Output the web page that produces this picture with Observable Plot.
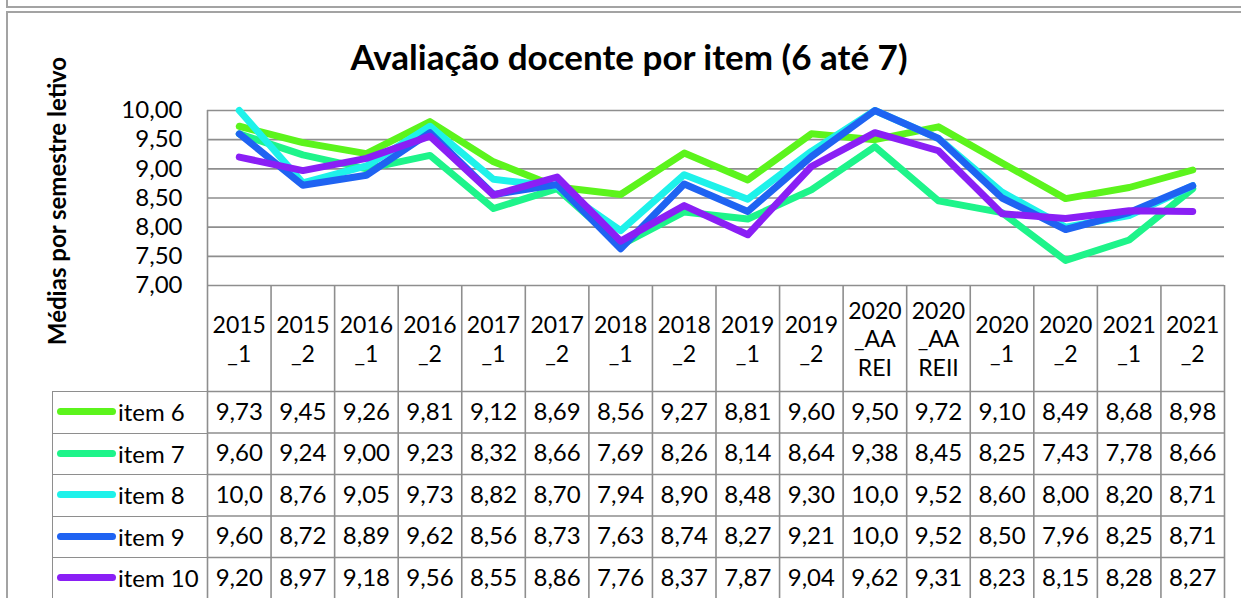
<!DOCTYPE html>
<html>
<head>
<meta charset="utf-8">
<script src="https://cdn.jsdelivr.net/npm/d3@7"></script>
<script src="https://cdn.jsdelivr.net/npm/@observablehq/plot@0.6"></script>
<style>
  html, body { margin: 0; padding: 0; background: #fff; }
  #root { position: relative; width: 1241px; height: 598px; overflow: hidden; font-family: Lato, "Open Sans", sans-serif; }
  #root svg { position: absolute; left: 0; overflow: visible; }
  .frame1 { position: absolute; left: 6px; top: -10px; width: 1300px; height: 16px; border-left: 2px solid #a3a3a3; border-bottom: 2px solid #a3a3a3; }
  .frame2 { position: absolute; left: 6px; top: 11px; width: 1300px; height: 700px; border-left: 2px solid #a3a3a3; border-top: 2px solid #a3a3a3; }
  .title { position: absolute; left: 0; width: 1258px; top: 39px; text-align: center; font-weight: bold; font-size: 35px; line-height: 34px; color: #000; }
  .legend { position: absolute; left: 52px; top: 391px; width: 155px; height: 210px; border-left: 1.5px solid #8e8e8e; box-sizing: border-box; }
  .lrow { position: relative; height: 41.5px; border-top: 1.5px solid #8e8e8e; box-sizing: border-box; }
  .sw { position: absolute; left: 4px; top: 16px; width: 59px; height: 7px; border-radius: 4px; }
  .lab { position: absolute; left: 65px; top: 0; line-height: 40px; font-size: 24px; color: #000; white-space: nowrap; }
</style>
</head>
<body>
<div id="root">
  <div class="frame1"></div>
  <div class="frame2"></div>
  <div class="title" id="title"></div>
  <div class="legend" id="legend"></div>
</div>
<script>
// ---- data ----
const categories = ["2015_1","2015_2","2016_1","2016_2","2017_1","2017_2","2018_1","2018_2","2019_1","2019_2","2020_AAREI","2020_AAREII","2020_1","2020_2","2021_1","2021_2"];
const headerLabels = ["2015\n_1","2015\n_2","2016\n_1","2016\n_2","2017\n_1","2017\n_2","2018\n_1","2018\n_2","2019\n_1","2019\n_2","2020\n_AA\nREI","2020\n_AA\nREII","2020\n_1","2020\n_2","2021\n_1","2021\n_2"];
const items = ["item 6","item 7","item 8","item 9","item 10"];
const item6  = [9.73,9.45,9.26,9.81,9.12,8.69,8.56,9.27,8.81,9.60,9.50,9.72,9.10,8.49,8.68,8.98];
const item7  = [9.60,9.24,9.00,9.23,8.32,8.66,7.69,8.26,8.14,8.64,9.38,8.45,8.25,7.43,7.78,8.66];
const item8  = [10.0,8.76,9.05,9.73,8.82,8.70,7.94,8.90,8.48,9.30,10.0,9.52,8.60,8.00,8.20,8.71];
const item9  = [9.60,8.72,8.89,9.62,8.56,8.73,7.63,8.74,8.27,9.21,10.0,9.52,8.50,7.96,8.25,8.71];
const item10 = [9.20,8.97,9.18,9.56,8.55,8.86,7.76,8.37,7.87,9.04,9.62,9.31,8.23,8.15,8.28,8.27];
const yTicks = [7.0,7.5,8.0,8.5,9.0,9.5,10.0];
const colors = ["#5cf41c","#1ef48a","#1ef2ea","#1f63f2","#8a1ff5"];
const title = "Avaliação docente por item (6 até 7)";
const yTitle = "Médias por semestre letivo";

// ---- build ----
document.getElementById("title").textContent = title;
const seriesValues = [item6, item7, item8, item9, item10];
const rows = [];
seriesValues.forEach((vals, r) => vals.forEach((v, i) => rows.push({item: items[r], r, i, cat: categories[i], value: v})));
const boundaries = d3.range(categories.length + 1).map(k => k - 0.5);
const fmtTick = d => d.toFixed(2).replace(".", ",");
const fmtCell = d => d.toFixed(2).replace(".", ",").slice(0, 4);

const grid = "#8e8e8e";
const W = 1241, mL = 207, mR = 17, mT = 110, chartH = 175, headH = 106;

const chart = Plot.plot({
  width: W, height: mT + chartH + headH,
  marginTop: mT, marginBottom: headH, marginLeft: mL, marginRight: mR,
  style: {fontFamily: "Lato, 'Open Sans', sans-serif", fontSize: "24px", color: "#000", background: "transparent", overflow: "visible"},
  x: {type: "linear", domain: [-0.5, categories.length - 0.5], axis: null},
  y: {domain: [7, 10], ticks: yTicks, tickFormat: fmtTick, tickSize: 0, tickPadding: 25, label: null},
  color: {domain: items, range: colors},
  marks: [
    Plot.ruleY(yTicks, {stroke: grid, strokeWidth: 1.6}),
    Plot.ruleX([boundaries[0]], {stroke: grid, strokeWidth: 1.6, insetBottom: -headH}),
    Plot.ruleX(boundaries.slice(1), {stroke: grid, strokeWidth: 1.6, insetTop: chartH, insetBottom: -headH}),
    Plot.line(rows, {x: "i", y: "value", z: "item", stroke: "item", strokeWidth: 7, strokeLinejoin: "round", strokeLinecap: "round"}),
    Plot.text(headerLabels, {x: (d, i) => i, frameAnchor: "bottom", dy: headH / 2, lineAnchor: "middle", lineHeight: 1.22, fontSize: 23, fill: "#000"}),
    Plot.text([yTitle], {frameAnchor: "left", dx: -149, dy: 3, rotate: -90, textAnchor: "middle", lineAnchor: "middle", fontWeight: "bold", fontSize: 24, fill: "#000"})
  ]
});
chart.style.top = "0px";
document.getElementById("root").appendChild(chart);

const rowH = 41.5;
const table = Plot.plot({
  width: W, height: 207,
  marginTop: 0, marginBottom: 0, marginLeft: mL, marginRight: mR,
  style: {fontFamily: "Lato, 'Open Sans', sans-serif", fontSize: "24px", color: "#000", background: "transparent", overflow: "visible"},
  x: {type: "linear", domain: [-0.5, categories.length - 0.5], axis: null},
  y: {type: "linear", domain: [0, items.length], range: [0, rowH * items.length], axis: null},
  marks: [
    Plot.ruleY(d3.range(items.length + 1), {stroke: grid, strokeWidth: 1.6}),
    Plot.ruleX(boundaries, {stroke: grid, strokeWidth: 1.6}),
    Plot.text(rows, {x: "i", y: d => d.r + 0.5, text: d => fmtCell(d.value), fontSize: 24, fill: "#000"})
  ]
});
table.style.top = "391px";
document.getElementById("root").appendChild(table);

// legend column
const legend = document.getElementById("legend");
items.forEach((it, r) => {
  const row = document.createElement("div");
  row.className = "lrow";
  const sw = document.createElement("div");
  sw.className = "sw";
  sw.style.background = colors[r];
  const lab = document.createElement("div");
  lab.className = "lab";
  lab.textContent = it;
  row.appendChild(sw); row.appendChild(lab);
  legend.appendChild(row);
});
</script>
</body>
</html>
